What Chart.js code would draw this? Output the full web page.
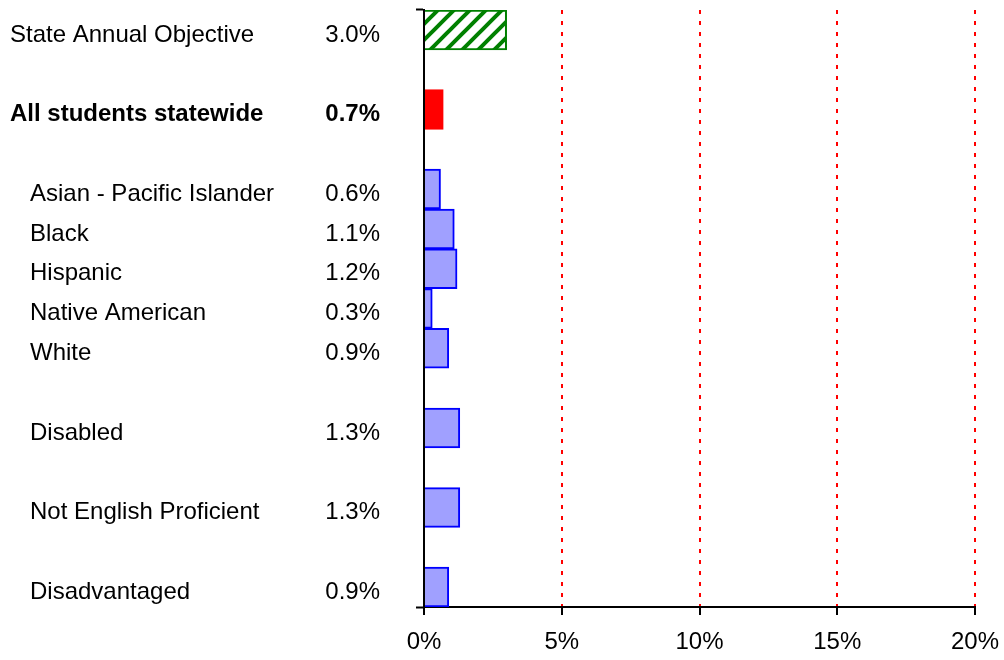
<!DOCTYPE html>
<html>
<head>
<meta charset="utf-8">
<script src="https://cdn.jsdelivr.net/npm/chart.js@4"></script>
<style>
  body { margin: 0; background: #fff; }
</style>
</head>
<body>
<canvas id="chart" width="1004" height="660"></canvas>
<script>
const categories = [
  "State Annual Objective", "", "All students statewide", "",
  "Asian - Pacific Islander", "Black", "Hispanic", "Native American", "White", "",
  "Disabled", "", "Not English Proficient", "", "Disadvantaged"
];
const rates = [3.0, null, 0.7, null, 0.6, 1.1, 1.2, 0.3, 0.9, null, 1.3, null, 1.3, null, 0.9];
const xTicks = [0, 5, 10, 15, 20];

const FONT = "'Liberation Sans', Arial, sans-serif";

function hatch() {
  const c = document.createElement("canvas");
  c.width = 16; c.height = 16;
  const g = c.getContext("2d");
  g.fillStyle = "#fff";
  g.fillRect(0, 0, 16, 16);
  g.strokeStyle = "#008000";
  g.lineWidth = 4;
  g.beginPath();
  g.moveTo(0, 16); g.lineTo(16, 0);
  g.moveTo(-4, 4); g.lineTo(4, -4);
  g.moveTo(12, 20); g.lineTo(20, 12);
  g.stroke();
  return g.createPattern(c, "repeat");
}

const fills = rates.map((v, i) => i === 0 ? hatch() : i === 2 ? "#ff0000" : "#a0a0ff");
const borders = rates.map((v, i) => i === 0 ? "#008000" : i === 2 ? "#ff0000" : "#0000ff");

function tickFont(ctx) {
  return { family: FONT, size: 24, weight: ctx.index === 2 ? "bold" : "normal" };
}
function noPad(scale) {
  scale.paddingTop = 0; scale.paddingBottom = 0;
  scale.paddingLeft = 0; scale.paddingRight = 0;
}
const edgeTick = ctx => (ctx.index === 0 || ctx.index === undefined) ? "#000" : "rgba(0,0,0,0)";

new Chart(document.getElementById("chart"), {
  type: "bar",
  data: {
    labels: categories,
    datasets: [{
      data: rates,
      backgroundColor: fills,
      borderColor: borders,
      borderWidth: 2,
      barPercentage: 1,
      categoryPercentage: 1
    }]
  },
  options: {
    indexAxis: "y",
    responsive: false,
    animation: false,
    events: [],
    layout: { padding: { left: 10, right: 29, top: 10, bottom: 0 } },
    plugins: { legend: { display: false }, tooltip: { enabled: false } },
    scales: {
      x: {
        min: 0,
        max: 20,
        afterBuildTicks: scale => { scale.ticks = xTicks.map(v => ({ value: v })); },
        afterFit: scale => { scale.height = 53; noPad(scale); },
        ticks: {
          color: "#000",
          font: { family: FONT, size: 24 },
          padding: 13,
          maxRotation: 0,
          callback: v => v + "%"
        },
        grid: {
          color: ctx => ctx.index === 0 ? "rgba(0,0,0,0)" : "#ff0000",
          lineWidth: 2,
          tickColor: "#000",
          tickWidth: 2,
          tickLength: 8
        },
        border: { color: "#000", width: 2, dash: [4, 7] }
      },
      y: {
        type: "category",
        position: "left",
        weight: 1,
        offset: true,
        afterFit: scale => { scale.width = 130; noPad(scale); },
        ticks: {
          color: "#000",
          font: tickFont,
          padding: 36,
          labelOffset: 5,
          autoSkip: false,
          callback: (v, i) => rates[i] === null ? "" : rates[i].toFixed(1) + "%"
        },
        grid: {
          offset: true,
          drawOnChartArea: false,
          color: edgeTick,
          tickColor: edgeTick,
          tickWidth: 2,
          tickLength: 8
        },
        border: { color: "#000", width: 2 }
      },
      names: {
        type: "category",
        axis: "y",
        position: "left",
        weight: 2,
        offset: true,
        afterFit: scale => { scale.width = 284; noPad(scale); },
        ticks: {
          color: "#000",
          font: tickFont,
          crossAlign: "far",
          labelOffset: 5,
          autoSkip: false,
          callback: (v, i) => (i >= 4 ? "   " : "") + categories[i]
        },
        grid: { display: false },
        border: { display: false }
      }
    }
  }
});
</script>
</body>
</html>
